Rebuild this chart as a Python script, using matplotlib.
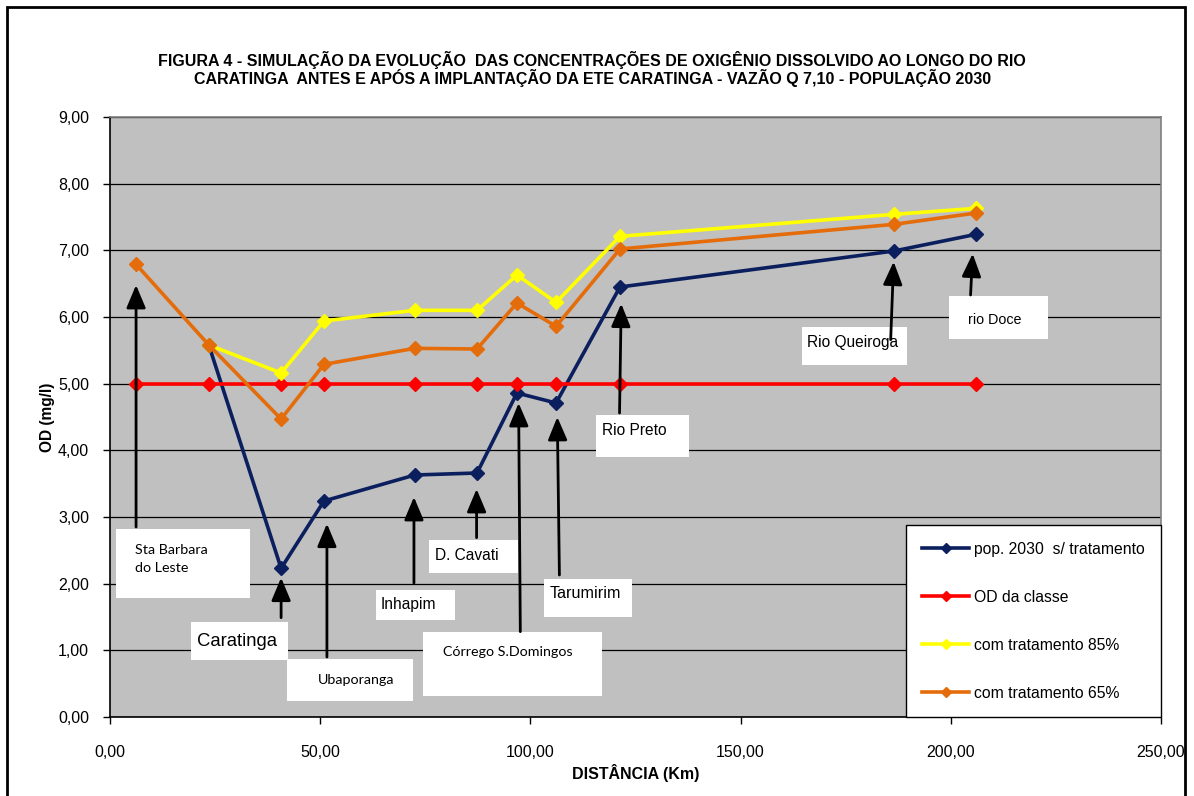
import numpy as np
import matplotlib
matplotlib.use("Agg")
import matplotlib.pyplot as plt
from matplotlib.patches import Rectangle
from matplotlib.ticker import FuncFormatter, MultipleLocator

plt.rcParams['font.family'] = ['Liberation Sans', 'DejaVu Sans']

# distance along the river (km)
distancia = [6.2, 23.5, 40.7, 50.9, 72.5, 87.3, 96.8, 106.1, 121.3, 186.5, 206.0]

# OD (mg/l)
sem_tratamento = [5.58, 2.23, 3.24, 3.63, 3.66, 4.86, 4.71, 6.45, 6.99, 7.24]   # from 2nd point
od_classe = [5.0] * 11
trat_85 = [5.58, 5.16, 5.94, 6.10, 6.10, 6.63, 6.22, 7.21, 7.54, 7.63]         # from 2nd point
trat_65 = [6.79, 5.58, 4.47, 5.29, 5.53, 5.52, 6.21, 5.86, 7.02, 7.39, 7.56]

nomes_series = ['pop. 2030  s/ tratamento', 'OD da classe',
                'com tratamento 85%', 'com tratamento 65%']
cores = ['#0B1F5E', '#FF0000', '#FFFF00', '#E46C0A']

# place labels: text, box (x0, x1, y0, y1), text pos, arrow tail, arrow tip, font, size
rotulos = [
    ('Sta Barbara\ndo Leste', (1.4, 33.3, 1.79, 2.82), (5.95, 2.37), (6.2, 2.85), (6.2, 6.48), 'Lato', 10.3),
    ('Caratinga', (19.2, 42.3, 0.86, 1.43), (20.7, 1.14), (40.7, 1.49), (40.7, 2.09), 'Liberation Sans', 13.3),
    ('Ubaporanga', (42.1, 72.0, 0.24, 0.87), (49.5, 0.555), (51.6, 0.90), (51.6, 2.90), 'Lato', 10.3),
    ('Inhapim', (63.2, 82.0, 1.46, 1.91), (64.4, 1.68), (72.3, 2.01), (72.3, 3.30), 'Liberation Sans', 11.2),
    ('D. Cavati', (75.9, 97.0, 2.16, 2.66), (77.3, 2.415), (87.2, 2.69), (87.2, 3.42), 'Liberation Sans', 11.2),
    ('Córrego S.Domingos', (74.4, 117.0, 0.32, 1.28), (79.1, 0.975), (97.6, 1.28), (97.2, 4.71), 'Lato', 10.3),
    ('Tarumirim', (103.2, 124.1, 1.50, 2.07), (104.6, 1.86), (106.9, 2.13), (106.4, 4.50), 'Liberation Sans', 11.6),
    ('Rio Preto', (115.6, 137.7, 3.90, 4.53), (117.0, 4.305), (121.2, 4.56), (121.6, 6.20), 'Liberation Sans', 11.2),
    ('Rio Queiroga', (164.6, 189.5, 5.28, 5.85), (165.9, 5.625), (185.7, 5.66), (186.4, 6.83), 'Liberation Sans', 11.2),
    ('rio Doce', (199.6, 223.1, 5.67, 6.32), (204.2, 5.955), (204.7, 6.33), (205.2, 6.95), 'Liberation Sans', 10.3),
]

fig = plt.figure(figsize=(11.94, 7.96), dpi=100)
ax = fig.add_axes([110 / 1194, 1 - 717 / 796, (1161 - 110) / 1194, 600 / 796])
ax.set_facecolor('#C0C0C0')

x = np.array(distancia)
estilo = dict(lw=2.6, marker='D', ms=7, zorder=3)
ax.plot(x[1:], sem_tratamento, color=cores[0], label=nomes_series[0], **estilo)
ax.plot(x, od_classe, color=cores[1], label=nomes_series[1], **estilo)
ax.plot(x[1:], trat_85, color=cores[2], label=nomes_series[2], **estilo)
ax.plot(x, trat_65, color=cores[3], label=nomes_series[3], **estilo)

for txt, caixa, pos, cauda, ponta, fonte, tam in rotulos:
    ax.add_patch(Rectangle((caixa[0], caixa[2]), caixa[1] - caixa[0], caixa[3] - caixa[2],
                           facecolor='white', edgecolor='none', zorder=4))
    ax.text(pos[0], pos[1], txt, family=[fonte, 'DejaVu Sans'], fontsize=tam,
            ha='left', va='center', zorder=5, linespacing=1.55)
    ax.annotate('', xy=ponta, xytext=cauda, zorder=6,
                arrowprops=dict(arrowstyle='-|>,head_width=0.42,head_length=1.0',
                                mutation_scale=14, lw=2.0, color='black',
                                shrinkA=0, shrinkB=0))

ax.set_xlim(0, 250)
ax.set_ylim(0, 9)
ax.xaxis.set_major_locator(MultipleLocator(50))
ax.yaxis.set_major_locator(MultipleLocator(1))
virgula = FuncFormatter(lambda v, p: ('%.2f' % v).replace('.', ','))
ax.xaxis.set_major_formatter(virgula)
ax.yaxis.set_major_formatter(virgula)
ax.tick_params(axis='both', direction='out', length=5, width=1, labelsize=11.5)
ax.tick_params(axis='x', pad=15)
ax.tick_params(axis='y', pad=10)
ax.grid(axis='y', color='black', lw=0.9, zorder=1)
ax.set_axisbelow(True)
for s in ['left', 'bottom']:
    ax.spines[s].set_color('black')
    ax.spines[s].set_linewidth(1.2)
for s in ['top', 'right']:
    ax.spines[s].set_color('#808080')
    ax.spines[s].set_linewidth(1.2)

ax.set_ylabel('OD (mg/l)', fontsize=11.2, fontweight='bold', labelpad=2)
ax.set_xlabel('DISTÂNCIA (Km)', fontsize=11.5, fontweight='bold', labelpad=3)

leg = ax.legend(loc='lower right', bbox_to_anchor=(1.0, 0.0), borderaxespad=0,
                fontsize=11.3, handlelength=3.0, labelspacing=2.1, borderpad=1.05,
                handletextpad=0.3, fancybox=False, framealpha=1, edgecolor='black',
                markerscale=0.75)
leg.get_frame().set_linewidth(1.0)
leg.set_zorder(10)

fig.text(0.496, 1 - 69 / 796,
         'FIGURA 4 - SIMULAÇÃO DA EVOLUÇÃO  DAS CONCENTRAÇÕES DE OXIGÊNIO DISSOLVIDO AO LONGO DO RIO\n'
         'CARATINGA  ANTES E APÓS A IMPLANTAÇÃO DA ETE CARATINGA - VAZÃO Q 7,10 - POPULAÇÃO 2030',
         ha='center', va='center', fontsize=11.5, fontweight='bold', linespacing=1.05)

fig.patches.append(Rectangle((7 / 1194, -0.1), (1185 - 7) / 1194, 1.1 - 7 / 796,
                             transform=fig.transFigure, fill=False, edgecolor='black',
                             lw=2, clip_on=False))

plt.savefig('out.png', dpi=100)
